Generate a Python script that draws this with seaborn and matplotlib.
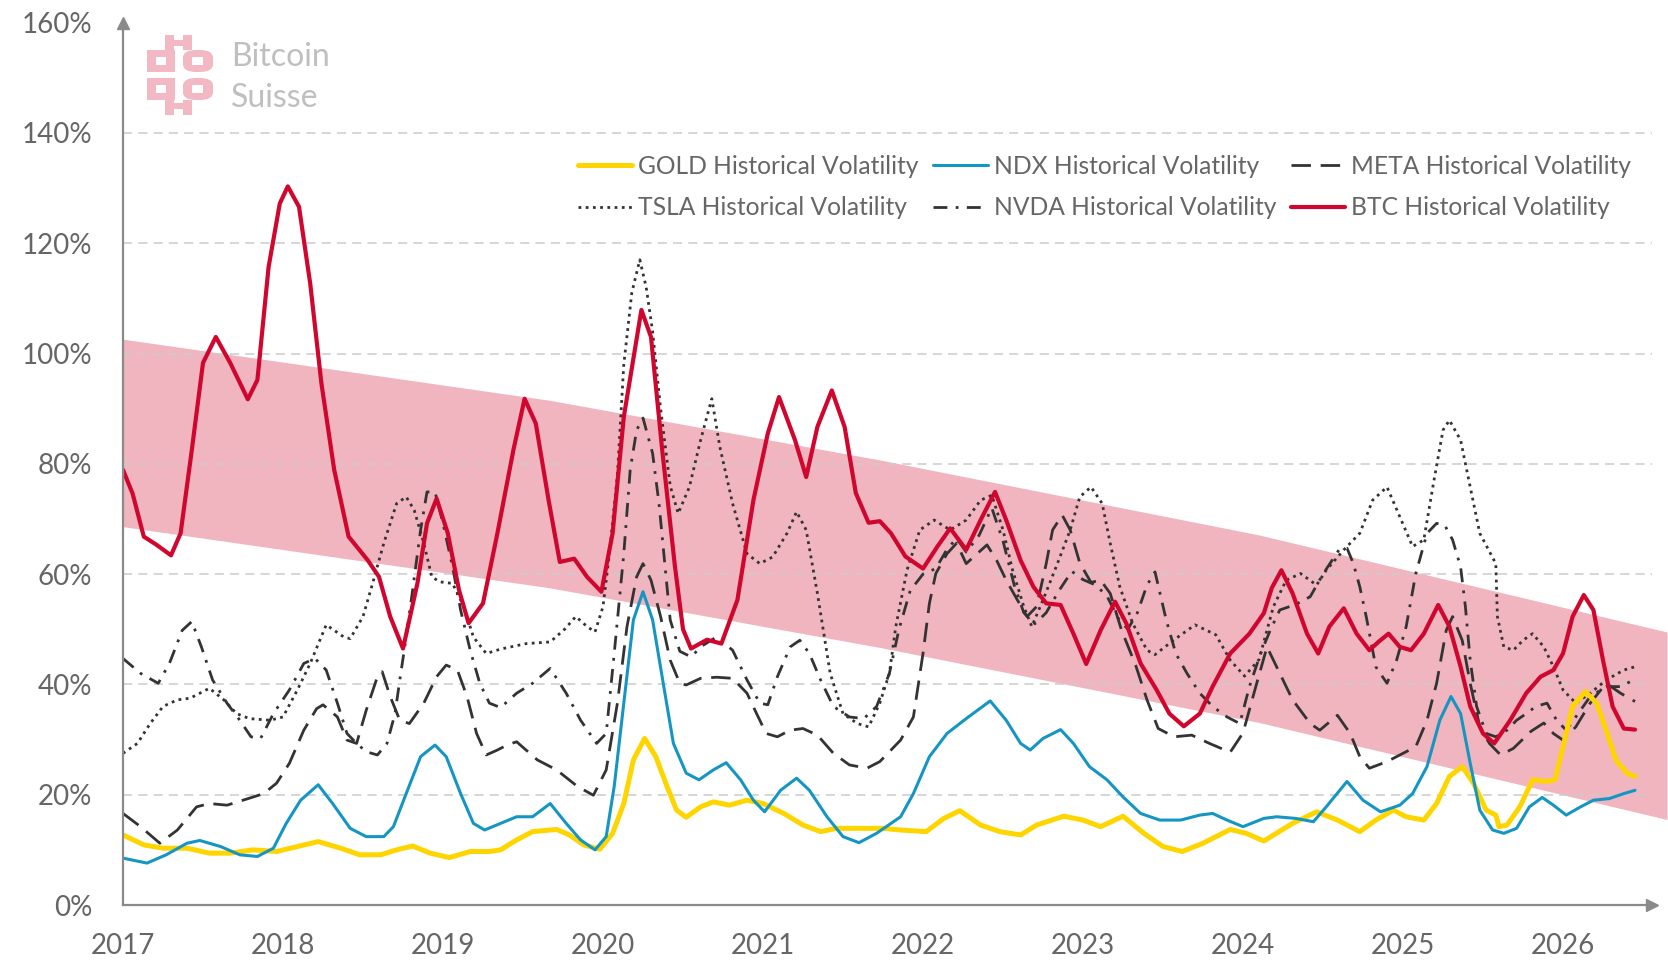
import matplotlib
matplotlib.use("Agg")
import matplotlib.pyplot as plt
from matplotlib.patches import Rectangle, FancyBboxPatch
import seaborn as sns
import numpy as np

# ---------------- data ----------------
btc_x = [2017.00, 2017.06, 2017.13, 2017.21, 2017.30, 2017.36, 2017.43, 2017.50, 2017.58, 2017.67,
         2017.78, 2017.84, 2017.91, 2017.98, 2018.03, 2018.10, 2018.17, 2018.24, 2018.32, 2018.41,
         2018.53, 2018.60, 2018.67, 2018.75, 2018.84, 2018.90, 2018.96, 2019.03, 2019.10, 2019.16,
         2019.25, 2019.34, 2019.44, 2019.51, 2019.58, 2019.66, 2019.73, 2019.82, 2019.90, 2019.99,
         2020.06, 2020.13, 2020.24, 2020.30, 2020.37, 2020.45, 2020.50, 2020.55, 2020.65, 2020.74,
         2020.84, 2020.94, 2021.03, 2021.10, 2021.20, 2021.27, 2021.34, 2021.43, 2021.51, 2021.58,
         2021.66, 2021.73, 2021.80, 2021.89, 2022.00, 2022.09, 2022.17, 2022.27, 2022.36, 2022.45,
         2022.52, 2022.61, 2022.69, 2022.77, 2022.86, 2022.94, 2023.02, 2023.11, 2023.20, 2023.27,
         2023.36, 2023.46, 2023.54, 2023.63, 2023.73, 2023.81, 2023.92, 2024.04, 2024.13, 2024.18,
         2024.24, 2024.31, 2024.40, 2024.47, 2024.54, 2024.63, 2024.71, 2024.79, 2024.85, 2024.91,
         2024.98, 2025.05, 2025.13, 2025.22, 2025.29, 2025.36, 2025.42, 2025.50, 2025.57, 2025.67,
         2025.77, 2025.86, 2025.94, 2026.00, 2026.06, 2026.13, 2026.19, 2026.25, 2026.31, 2026.38,
         2026.45]
btc_y = [78.9, 74.6, 66.8, 65.3, 63.4, 67.4, 82.5, 98.3, 103.0, 98.3,
         91.7, 95.2, 115.7, 127.2, 130.3, 126.6, 112.7, 94.6, 78.9, 66.8,
         62.5, 59.5, 52.3, 46.5, 58.3, 69.2, 73.7, 67.4, 57.1, 51.1,
         54.7, 67.4, 82.5, 91.8, 87.3, 73.4, 62.2, 62.8, 59.5, 56.8,
         67.4, 88.5, 107.9, 103.0, 82.5, 61.3, 50.0, 46.5, 48.1, 47.4,
         55.3, 73.4, 85.5, 92.1, 84.3, 77.6, 86.7, 93.3, 86.7, 74.7,
         69.3, 69.6, 67.4, 63.2, 61.0, 65.0, 68.3, 64.4, 69.8, 74.9,
         69.8, 62.5, 57.7, 54.7, 54.4, 49.2, 43.7, 49.8, 55.0, 51.1,
         43.8, 39.0, 34.7, 32.4, 34.7, 39.6, 45.6, 49.2, 52.9, 57.5,
         60.7, 56.5, 49.2, 45.6, 50.5, 53.8, 49.2, 46.2, 47.8, 49.2,
         46.8, 46.2, 49.2, 54.4, 50.5, 43.2, 36.0, 31.1, 29.3, 33.5,
         38.4, 41.4, 42.6, 45.6, 52.3, 56.2, 53.5, 44.4, 36.0, 32.0,
         31.8]

gold_x = [2017.00, 2017.13, 2017.25, 2017.40, 2017.54, 2017.67, 2017.81, 2017.96, 2018.09, 2018.22,
          2018.36, 2018.48, 2018.61, 2018.71, 2018.81, 2018.92, 2019.04, 2019.17, 2019.29, 2019.36,
          2019.46, 2019.56, 2019.71, 2019.79, 2019.88, 2019.98, 2020.06, 2020.13, 2020.19, 2020.26,
          2020.33, 2020.40, 2020.46, 2020.52, 2020.61, 2020.69, 2020.79, 2020.90, 2021.00, 2021.13,
          2021.25, 2021.36, 2021.46, 2021.61, 2021.75, 2021.86, 2022.02, 2022.13, 2022.23, 2022.36,
          2022.48, 2022.61, 2022.71, 2022.88, 2023.00, 2023.11, 2023.25, 2023.38, 2023.50, 2023.62,
          2023.75, 2023.92, 2024.02, 2024.13, 2024.31, 2024.46, 2024.59, 2024.73, 2024.83, 2024.94,
          2025.02, 2025.13, 2025.21, 2025.29, 2025.37, 2025.44, 2025.52, 2025.58, 2025.60, 2025.65,
          2025.73, 2025.81, 2025.90, 2025.95, 2026.00, 2026.06, 2026.14, 2026.21, 2026.27, 2026.33,
          2026.40, 2026.45]
gold_y = [12.7, 10.9, 10.3, 10.3, 9.4, 9.4, 10.0, 9.7, 10.6, 11.5,
          10.3, 9.1, 9.1, 10.0, 10.7, 9.4, 8.6, 9.7, 9.7, 10.0,
          11.8, 13.3, 13.7, 12.7, 10.9, 10.1, 13.0, 18.4, 26.3, 30.2,
          26.9, 21.5, 17.2, 15.9, 17.8, 18.7, 18.1, 19.0, 18.4, 16.6,
          14.5, 13.3, 13.9, 13.9, 13.9, 13.6, 13.3, 15.7, 17.1, 14.5,
          13.3, 12.7, 14.5, 16.1, 15.4, 14.2, 16.1, 13.0, 10.6, 9.7,
          11.2, 13.7, 13.0, 11.6, 14.8, 16.9, 15.4, 13.3, 15.4, 17.2,
          16.0, 15.4, 18.4, 23.3, 25.1, 22.1, 17.2, 16.3, 14.2, 14.5,
          17.8, 22.7, 22.4, 22.7, 28.7, 36.0, 38.7, 36.6, 31.7, 26.3,
          23.9, 23.3]

ndx_x = [2017.00, 2017.15, 2017.27, 2017.40, 2017.48, 2017.61, 2017.73, 2017.84, 2017.94, 2018.02,
         2018.11, 2018.22, 2018.31, 2018.42, 2018.52, 2018.63, 2018.69, 2018.77, 2018.86, 2018.95,
         2019.02, 2019.11, 2019.19, 2019.26, 2019.36, 2019.46, 2019.56, 2019.67, 2019.77, 2019.86,
         2019.95, 2020.02, 2020.07, 2020.13, 2020.19, 2020.25, 2020.31, 2020.38, 2020.44, 2020.52,
         2020.60, 2020.69, 2020.77, 2020.86, 2020.94, 2021.01, 2021.11, 2021.21, 2021.29, 2021.40,
         2021.50, 2021.60, 2021.71, 2021.86, 2021.94, 2022.04, 2022.15, 2022.27, 2022.42, 2022.52,
         2022.61, 2022.67, 2022.75, 2022.86, 2022.94, 2023.04, 2023.15, 2023.25, 2023.36, 2023.48,
         2023.61, 2023.73, 2023.81, 2023.90, 2024.00, 2024.13, 2024.21, 2024.33, 2024.44, 2024.52,
         2024.65, 2024.75, 2024.86, 2024.98, 2025.06, 2025.15, 2025.23, 2025.30, 2025.36, 2025.42,
         2025.48, 2025.56, 2025.63, 2025.71, 2025.79, 2025.87, 2025.94, 2026.02, 2026.11, 2026.19,
         2026.29, 2026.38, 2026.45]
ndx_y = [8.5, 7.6, 9.1, 11.2, 11.7, 10.6, 9.1, 8.8, 10.3, 14.8,
         19.0, 21.8, 18.4, 13.9, 12.4, 12.4, 14.2, 20.2, 26.9, 29.0,
         26.9, 20.2, 14.8, 13.6, 14.8, 16.0, 16.0, 18.4, 14.8, 11.8,
         10.0, 12.4, 21.5, 36.6, 51.7, 56.8, 51.7, 39.6, 29.3, 23.9,
         22.7, 24.5, 25.8, 22.7, 19.0, 16.9, 20.8, 23.0, 20.8, 16.0,
         12.4, 11.3, 13.0, 16.0, 20.2, 26.9, 31.1, 33.8, 37.0, 33.5,
         29.3, 28.1, 30.2, 31.8, 29.3, 25.1, 22.7, 19.6, 16.6, 15.4,
         15.4, 16.3, 16.6, 15.4, 14.2, 15.7, 16.0, 15.7, 15.1, 17.8,
         22.4, 19.0, 16.9, 18.1, 20.2, 25.1, 33.5, 37.8, 34.7, 25.7,
         17.2, 13.6, 13.0, 13.9, 17.8, 19.5, 18.1, 16.3, 17.8, 19.0,
         19.3, 20.2, 20.8]

tsla_x = [2017.00, 2017.09, 2017.17, 2017.25, 2017.34, 2017.42, 2017.54, 2017.63, 2017.71, 2017.79,
          2017.92, 2018.00, 2018.09, 2018.17, 2018.27, 2018.38, 2018.42, 2018.50, 2018.56, 2018.63,
          2018.71, 2018.77, 2018.82, 2018.88, 2018.93, 2018.98, 2019.06, 2019.13, 2019.19, 2019.27,
          2019.36, 2019.52, 2019.67, 2019.76, 2019.83, 2019.90, 2019.95, 2020.00, 2020.04, 2020.09,
          2020.13, 2020.18, 2020.23, 2020.27, 2020.31, 2020.36, 2020.42, 2020.47, 2020.54, 2020.61,
          2020.68, 2020.73, 2020.81, 2020.90, 2020.98, 2021.06, 2021.15, 2021.21, 2021.27, 2021.34,
          2021.42, 2021.50, 2021.59, 2021.66, 2021.73, 2021.79, 2021.83, 2021.90, 2021.98, 2022.07,
          2022.17, 2022.27, 2022.36, 2022.43, 2022.50, 2022.56, 2022.63, 2022.68, 2022.75, 2022.84,
          2022.92, 2022.98, 2023.05, 2023.12, 2023.17, 2023.23, 2023.31, 2023.40, 2023.45, 2023.57,
          2023.70, 2023.83, 2023.92, 2024.01, 2024.10, 2024.19, 2024.27, 2024.36, 2024.46, 2024.52,
          2024.63, 2024.73, 2024.81, 2024.90, 2024.98, 2025.06, 2025.13, 2025.19, 2025.25, 2025.29,
          2025.36, 2025.42, 2025.48, 2025.58, 2025.59, 2025.63, 2025.69, 2025.75, 2025.81, 2025.88,
          2025.94, 2026.00, 2026.08, 2026.17, 2026.27, 2026.38, 2026.45]
tsla_y = [27.5, 29.3, 32.9, 36.0, 37.2, 37.5, 39.3, 37.2, 34.7, 33.8,
          33.5, 34.1, 39.0, 43.8, 50.8, 48.6, 48.3, 52.3, 58.3, 65.6,
          72.8, 74.0, 71.6, 65.6, 59.5, 58.6, 58.3, 54.1, 48.6, 45.6,
          46.4, 47.4, 47.7, 50.0, 52.3, 50.5, 49.5, 54.1, 63.7, 78.0,
          98.0, 111.0, 117.0, 112.0, 104.0, 90.0, 76.0, 71.0, 75.8, 84.3,
          91.8, 83.1, 72.8, 63.7, 61.9, 63.1, 67.4, 71.3, 68.0, 56.5,
          42.0, 34.7, 32.9, 32.3, 36.6, 42.0, 50.5, 60.7, 68.0, 69.8,
          68.0, 69.8, 73.4, 74.3, 68.0, 60.7, 54.1, 50.5, 55.3, 61.9,
          68.0, 74.0, 75.8, 72.8, 65.6, 57.7, 51.1, 46.2, 45.4, 48.1,
          50.8, 49.0, 44.4, 41.5, 44.5, 54.1, 58.9, 60.1, 58.0, 60.7,
          64.4, 67.4, 73.4, 75.8, 70.4, 65.0, 66.2, 76.4, 86.1, 87.9,
          84.3, 75.8, 67.4, 61.9, 52.3, 46.8, 46.2, 48.0, 49.2, 46.8,
          43.2, 39.0, 36.6, 38.4, 40.8, 42.6, 43.2]

meta_x = [2017.00, 2017.11, 2017.23, 2017.34, 2017.46, 2017.54, 2017.65, 2017.75, 2017.88, 2017.96,
          2018.04, 2018.13, 2018.21, 2018.25, 2018.34, 2018.40, 2018.46, 2018.52, 2018.59, 2018.62,
          2018.67, 2018.73, 2018.79, 2018.88, 2018.96, 2019.02, 2019.09, 2019.15, 2019.21, 2019.27,
          2019.34, 2019.40, 2019.46, 2019.59, 2019.71, 2019.84, 2019.94, 2020.02, 2020.09, 2020.15,
          2020.21, 2020.25, 2020.30, 2020.36, 2020.42, 2020.48, 2020.52, 2020.61, 2020.71, 2020.81,
          2020.90, 2020.96, 2021.02, 2021.09, 2021.17, 2021.25, 2021.34, 2021.44, 2021.54, 2021.65,
          2021.73, 2021.86, 2021.94, 2022.00, 2022.04, 2022.08, 2022.15, 2022.21, 2022.27, 2022.35,
          2022.40, 2022.46, 2022.52, 2022.59, 2022.65, 2022.71, 2022.77, 2022.81, 2022.87, 2022.92,
          2022.98, 2023.05, 2023.11, 2023.17, 2023.24, 2023.33, 2023.40, 2023.47, 2023.57, 2023.68,
          2023.79, 2023.92, 2024.00, 2024.08, 2024.15, 2024.23, 2024.31, 2024.42, 2024.48, 2024.59,
          2024.67, 2024.73, 2024.79, 2024.90, 2025.00, 2025.08, 2025.15, 2025.21, 2025.27, 2025.31,
          2025.37, 2025.42, 2025.48, 2025.54, 2025.61, 2025.69, 2025.80, 2025.88, 2025.94, 2026.00,
          2026.08, 2026.17, 2026.27, 2026.36, 2026.45]
meta_y = [16.6, 14.2, 11.2, 13.6, 17.8, 18.4, 18.1, 19.0, 20.2, 22.1,
          25.7, 31.7, 35.6, 36.3, 34.1, 29.9, 29.3, 35.3, 41.4, 42.3,
          37.8, 33.5, 32.9, 36.6, 41.4, 43.5, 42.6, 37.8, 31.1, 27.2,
          28.1, 29.0, 29.6, 26.3, 24.5, 21.5, 19.9, 24.5, 36.6, 50.5,
          59.5, 61.9, 58.9, 52.3, 44.4, 40.2, 39.9, 41.1, 41.3, 41.1,
          38.4, 34.7, 31.1, 30.5, 31.7, 32.0, 30.8, 27.5, 25.4, 24.8,
          26.0, 29.9, 34.1, 45.6, 54.7, 60.1, 63.7, 65.6, 61.9, 64.0,
          65.3, 62.5, 58.9, 55.3, 52.3, 54.1, 61.9, 68.0, 70.7, 68.0,
          62.0, 58.5, 58.9, 56.5, 49.9, 43.4, 37.2, 32.0, 30.5, 30.8,
          29.3, 27.7, 31.2, 39.6, 46.8, 42.0, 37.2, 32.9, 31.7, 34.4,
          31.1, 26.9, 24.8, 26.0, 27.5, 28.7, 33.5, 40.2, 49.8, 52.3,
          48.0, 40.2, 32.3, 29.3, 27.2, 28.4, 31.5, 33.0, 31.1, 29.9,
          32.3, 36.6, 40.2, 38.4, 36.9]

nvda_x = [2017.00, 2017.11, 2017.22, 2017.29, 2017.37, 2017.43, 2017.49, 2017.56, 2017.65, 2017.73,
          2017.80, 2017.86, 2017.94, 2018.04, 2018.13, 2018.20, 2018.27, 2018.34, 2018.40, 2018.46,
          2018.52, 2018.59, 2018.65, 2018.70, 2018.73, 2018.77, 2018.81, 2018.86, 2018.90, 2018.95,
          2019.00, 2019.06, 2019.11, 2019.17, 2019.23, 2019.29, 2019.36, 2019.46, 2019.56, 2019.67,
          2019.77, 2019.86, 2019.96, 2020.02, 2020.07, 2020.13, 2020.17, 2020.21, 2020.25, 2020.31,
          2020.35, 2020.39, 2020.42, 2020.48, 2020.55, 2020.62, 2020.71, 2020.81, 2020.90, 2020.98,
          2021.03, 2021.09, 2021.17, 2021.23, 2021.29, 2021.36, 2021.44, 2021.54, 2021.63, 2021.71,
          2021.79, 2021.85, 2021.92, 2022.00, 2022.08, 2022.15, 2022.21, 2022.27, 2022.35, 2022.43,
          2022.50, 2022.57, 2022.63, 2022.70, 2022.77, 2022.85, 2022.93, 2023.00, 2023.08, 2023.15,
          2023.22, 2023.28, 2023.34, 2023.40, 2023.45, 2023.52, 2023.58, 2023.65, 2023.73, 2023.81,
          2023.90, 2023.98, 2024.04, 2024.11, 2024.17, 2024.23, 2024.33, 2024.42, 2024.50, 2024.60,
          2024.65, 2024.69, 2024.73, 2024.77, 2024.83, 2024.90, 2024.96, 2025.02, 2025.08, 2025.15,
          2025.21, 2025.26, 2025.31, 2025.36, 2025.39, 2025.42, 2025.46, 2025.52, 2025.58, 2025.65,
          2025.71, 2025.77, 2025.83, 2025.90, 2025.96, 2026.02, 2026.08, 2026.17, 2026.27, 2026.36,
          2026.44]
nvda_y = [44.7, 42.0, 40.2, 43.8, 49.8, 51.4, 46.8, 40.8, 36.6, 33.5,
          30.5, 30.2, 34.7, 39.0, 43.8, 44.7, 42.6, 36.6, 31.1, 29.3,
          27.8, 27.2, 29.3, 34.7, 40.8, 48.6, 57.1, 68.0, 74.9, 74.9,
          69.2, 61.3, 53.5, 46.2, 40.2, 36.6, 35.8, 38.4, 40.2, 42.9,
          38.4, 33.5, 29.3, 31.1, 45.6, 63.7, 78.9, 86.1, 88.3, 81.9,
          72.8, 60.7, 51.7, 46.0, 45.0, 47.0, 48.6, 46.2, 40.8, 36.6,
          36.3, 41.4, 46.8, 48.0, 45.6, 40.8, 36.0, 34.1, 33.8, 36.0,
          42.0, 50.0, 57.0, 60.0, 61.0, 64.5, 66.5, 64.0, 67.0, 72.0,
          66.0, 58.0, 53.0, 51.0, 53.0, 57.0, 60.5, 59.0, 58.0, 56.0,
          52.0, 50.0, 53.0, 58.0, 60.4, 51.7, 45.6, 42.0, 38.4, 36.0,
          34.1, 32.9, 39.6, 45.6, 49.8, 53.5, 54.5, 55.9, 60.0, 64.4,
          64.7, 61.9, 57.7, 52.3, 43.2, 40.2, 44.4, 50.5, 60.1, 67.4,
          69.2, 68.9, 66.2, 61.3, 54.1, 44.4, 36.0, 31.1, 30.5, 31.7,
          33.5, 34.7, 36.0, 36.6, 33.5, 31.7, 34.1, 37.8, 39.6, 39.6,
          40.8]

band_x = [2017.00, 2019.67, 2021.73, 2024.10, 2026.65]
band_upper = [102.6, 91.5, 80.7, 67.1, 49.5]
band_lower = [68.6, 57.5, 46.7, 33.1, 15.5]

years = list(range(2017, 2027))
yticks = list(range(0, 161, 20))

# ---------------- style ----------------
sns.set_style("white")
plt.rcParams["font.family"] = ["Lato", "DejaVu Sans"]
plt.rcParams["font.weight"] = "normal"

W, H = 1668, 960
fig = plt.figure(figsize=(W / 100, H / 100), dpi=100)
ax_left, ax_right, ax_bottom, ax_top = 123, 1652, 905, 22.6
ax = fig.add_axes([ax_left / W, 1 - ax_bottom / H, (ax_right - ax_left) / W, (ax_bottom - ax_top) / H])

grey_axis = "#8a8a8a"
text_col = "#666666"
dark = "#333333"

# band
ax.fill_between(band_x, band_lower, band_upper, color="#f0b5bf", lw=0, zorder=0.3, clip_on=False)

series = [
    ("GOLD Historical Volatility", gold_x, gold_y, "#ffd500", 3.6, "-"),
    ("TSLA Historical Volatility", tsla_x, tsla_y, dark, 2.0, (0, (1, 1.6))),
    ("NDX Historical Volatility", ndx_x, ndx_y, "#1596c2", 2.2, "-"),
    ("NVDA Historical Volatility", nvda_x, nvda_y, dark, 2.0, (0, (5, 3, 1, 3))),
    ("META Historical Volatility", meta_x, meta_y, dark, 2.0, (0, (7, 3.5))),
    ("BTC Historical Volatility", btc_x, btc_y, "#d0062e", 3.0, "-"),
]
zorders = {"GOLD": 3, "NDX": 4, "TSLA": 2.5, "NVDA": 2.6, "META": 2.7, "BTC": 5}
for label, xs, ys, col, lw, ls in series:
    sns.lineplot(x=xs, y=ys, ax=ax, color=col, linewidth=lw, linestyle=ls, label=label,
                 estimator=None, sort=False, zorder=zorders[label.split()[0]],
                 solid_joinstyle="round", dash_joinstyle="round", solid_capstyle="round")

ax.set_xlim(2017, 2017 + (ax_right - ax_left) / 160)
ax.set_ylim(0, 160)
ax.set_xticks(years)
ax.set_xticklabels([str(y) for y in years])
ax.set_yticks(yticks)
ax.set_yticklabels([f"{v}%" for v in yticks])
ax.set_xlabel("")
ax.set_ylabel("")

ax.set_axisbelow(True)
ax.yaxis.grid(True, color="#cccccc", linestyle=(0, (6, 4)), linewidth=1.1)
ax.xaxis.grid(False)
gl = ax.get_ygridlines()
gl[0].set_visible(False)
gl[-1].set_visible(False)
for g in gl:
    g.set_zorder(0.4)

for s in ["top", "right"]:
    ax.spines[s].set_visible(False)
for s in ["left", "bottom"]:
    ax.spines[s].set_color(grey_axis)
    ax.spines[s].set_linewidth(1.6)
    ax.spines[s].set_zorder(6)

ax.tick_params(axis="y", length=0, pad=22, labelsize=20, labelcolor=text_col)
ax.tick_params(axis="x", direction="in", length=7, width=1.3, color=grey_axis, pad=20,
               labelsize=20, labelcolor=text_col)
ax.xaxis.get_major_ticks()[0].tick1line.set_visible(False)

# arrow heads
ax.plot([1], [0], marker=">", color=grey_axis, markersize=9, transform=ax.transAxes, clip_on=False, zorder=7)
ax.plot([0], [1], marker="^", color=grey_axis, markersize=9, transform=ax.transAxes, clip_on=False, zorder=7)

# legend
leg = ax.legend(loc="upper left", bbox_to_anchor=(578 / W, 1 - 155 / H), bbox_transform=fig.transFigure,
                ncol=3, frameon=False, fontsize=17.7, handlelength=2.2, handletextpad=0.25,
                columnspacing=0.6, labelspacing=0.75, borderpad=0, borderaxespad=0)
for t in leg.get_texts():
    t.set_color(text_col)

# watermark
fig.text(231 / W, 1 - 57 / H, "Bitcoin", fontsize=23, color="#bfbfbf", va="center", ha="left")
fig.text(231 / W, 1 - 98 / H, "Suisse", fontsize=23, color="#bfbfbf", va="center", ha="left")

pink = "#f2b8c3"
def px_rect(x0, y0, x1, y1, color=pink, rounded=False):
    if rounded:
        p = FancyBboxPatch((x0 / W, 1 - y1 / H), (x1 - x0) / W, (y1 - y0) / H,
                           boxstyle="round,pad=0,rounding_size=0.008", transform=fig.transFigure,
                           facecolor=color, edgecolor="none", zorder=10)
    else:
        p = Rectangle((x0 / W, 1 - y1 / H), (x1 - x0) / W, (y1 - y0) / H, transform=fig.transFigure,
                      facecolor=color, edgecolor="none", zorder=10)
    fig.add_artist(p)

# top glyph
px_rect(165, 35, 174, 50)
px_rect(183, 35, 192, 50)
px_rect(165, 40, 192, 46)
px_rect(147, 50, 175, 72)
px_rect(183, 50, 213, 72, rounded=True)
px_rect(156, 57, 166, 65, color="white")
px_rect(192, 57, 203, 65, color="white")
# bottom glyph
px_rect(147, 78, 175, 100)
px_rect(183, 78, 213, 100, rounded=True)
px_rect(165, 100, 174, 115)
px_rect(183, 100, 192, 115)
px_rect(165, 103, 192, 109)
px_rect(156, 85, 166, 93, color="white")
px_rect(192, 85, 203, 93, color="white")

fig.savefig("out.png", dpi=100)
